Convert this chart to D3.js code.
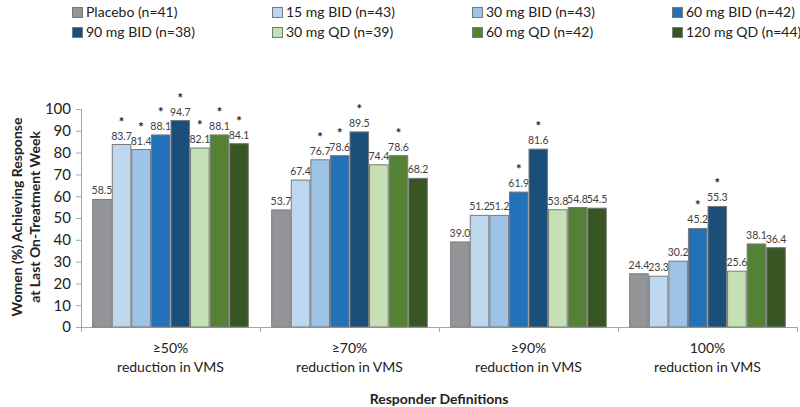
<!DOCTYPE html>
<html><head><meta charset="utf-8">
<script src="https://cdn.jsdelivr.net/npm/d3@7"></script>
<style>body{margin:0;background:#fff}svg{display:block;font-family:Lato,"Open Sans",sans-serif}</style>
</head><body>
<svg id="c" width="800" height="407"></svg>
<script>
const categories = [["≥50%","reduction in VMS"],["≥70%","reduction in VMS"],["≥90%","reduction in VMS"],["100%","reduction in VMS"]];
const seriesNames = ["Placebo (n=41)","15 mg BID (n=43)","30 mg BID (n=43)","60 mg BID (n=42)","90 mg BID (n=38)","30 mg QD (n=39)","60 mg QD (n=42)","120 mg QD (n=44)"];
const seriesColors = ["#939598","#bdd7ee","#9dc3e6","#2372b9","#1b4f7a","#c5e0b4","#548235","#375623"];
const placebo  = [58.5,53.7,39.0,24.4];
const bid15    = [83.7,67.4,51.2,23.3];
const bid30    = [81.4,76.7,51.2,30.2];
const bid60    = [88.1,78.6,61.9,45.2];
const bid90    = [94.7,89.5,81.6,55.3];
const qd30     = [82.1,74.4,53.8,25.6];
const qd60     = [88.1,78.6,54.8,38.1];
const qd120    = [84.1,68.2,54.5,36.4];
const seriesValues = [placebo,bid15,bid30,bid60,bid90,qd30,qd60,qd120];
// significance markers (1 = asterisk)
const sigPlacebo = [0,0,0,0];
const sig15 = [1,0,0,0];
const sig30 = [1,1,0,0];
const sig60 = [1,1,1,1];
const sig90 = [1,1,1,1];
const sigQ30 = [1,0,0,0];
const sigQ60 = [1,1,0,0];
const sigQ120 = [1,0,0,0];
const sigs = [sigPlacebo,sig15,sig30,sig60,sig90,sigQ30,sigQ60,sigQ120];
const yTicks = [0,10,20,30,40,50,60,70,80,90,100];

const svg = d3.select("#c");
const x0 = d3.scaleBand().domain(d3.range(categories.length)).range([81,797]).paddingInner(0.125).paddingOuter(0.0625);
const x1 = d3.scaleBand().domain(d3.range(seriesNames.length)).range([0,x0.bandwidth()]);
const y = d3.scaleLinear().domain([0,100]).range([327,109]);

// y axis
const ya = svg.append("g").attr("transform","translate(81,0)")
  .call(d3.axisLeft(y).tickValues(yTicks).tickSize(5).tickPadding(5));
ya.select(".domain").attr("stroke","#a6a6a6");
ya.selectAll(".tick line").attr("stroke","#a6a6a6");
ya.selectAll(".tick text").attr("font-size",15).attr("fill","#222").attr("font-family","Lato,sans-serif");

// x axis line and ticks
const xStep = (797-81)/categories.length;
svg.append("line").attr("x1",81).attr("x2",797).attr("y1",y(0)+0.5).attr("y2",y(0)+0.5).attr("stroke","#a6a6a6");
svg.selectAll(".xt").data(d3.range(categories.length+1)).join("line")
  .attr("x1",i=>81+i*xStep+0.5).attr("x2",i=>81+i*xStep+0.5)
  .attr("y1",y(0)).attr("y2",y(0)+5).attr("stroke","#a6a6a6");

// bars
const groups = svg.selectAll(".grp").data(categories).join("g")
  .attr("transform",(d,i)=>`translate(${x0(i)},0)`);
groups.each(function(cat,ci){
  const g = d3.select(this);
  seriesValues.forEach((vals,si)=>{
    const v = vals[ci];
    g.append("rect").attr("x",x1(si)+0.5).attr("y",y(v)).attr("width",x1.bandwidth()-1).attr("height",y(0)-y(v))
      .attr("fill",seriesColors[si]).attr("stroke","#7a7a7a").attr("stroke-width",1);
    g.append("text").attr("x",x1(si)+x1.bandwidth()/2).attr("y",y(v)-5).attr("text-anchor","middle")
      .attr("font-size",10.5).attr("fill","#404040").text(v.toFixed(1));
    if(sigs[si][ci]) g.append("text").attr("x",x1(si)+x1.bandwidth()/2).attr("y",y(v)-18).attr("text-anchor","middle")
      .attr("font-size",13).attr("font-weight","bold").attr("fill","#222").text("*");
  });
});

// x labels
categories.forEach((c,i)=>{
  const cx = x0(i)+x0.bandwidth()/2;
  const t = svg.append("text").attr("text-anchor","middle").attr("font-size",14).attr("fill","#222");
  t.append("tspan").attr("x",cx).attr("y",353).text(c[0]);
  t.append("tspan").attr("x",cx).attr("y",372).text(c[1]);
});
svg.append("text").attr("x",439).attr("y",404).attr("text-anchor","middle").attr("font-size",14)
  .attr("font-weight","bold").attr("fill","#222").text("Responder Definitions");

// y title
const yt = svg.append("text").attr("transform","translate(0,217) rotate(-90)").attr("text-anchor","middle")
  .attr("font-size",14).attr("font-weight","bold").attr("fill","#222");
yt.append("tspan").attr("x",0).attr("y",22).text("Women (%) Achieving Response");
yt.append("tspan").attr("x",0).attr("y",40).text("at Last On-Treatment Week");

// legend
const lg = svg.selectAll(".lg").data(seriesNames).join("g")
  .attr("transform",(d,i)=>`translate(${72+(i%4)*200},${i<4?7:27})`);
lg.append("rect").attr("x",0.5).attr("y",0.5).attr("width",10).attr("height",10)
  .attr("fill",(d,i)=>seriesColors[i]).attr("stroke","#7a7a7a");
lg.append("text").attr("x",14).attr("y",10).attr("font-size",14).attr("fill","#222").text(d=>d);
</script>
</body></html>
